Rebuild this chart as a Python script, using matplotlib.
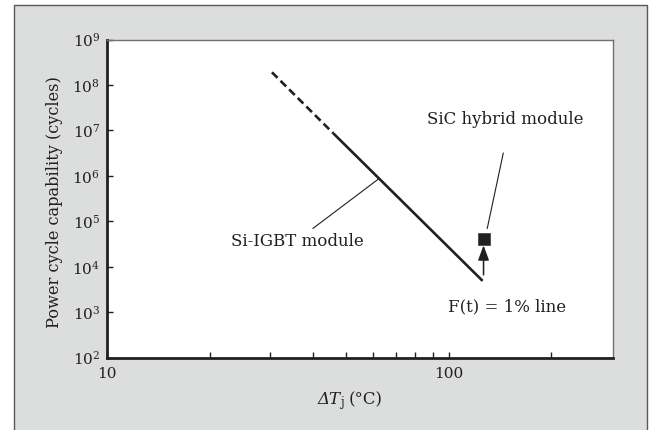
import matplotlib
matplotlib.use("Agg")
import matplotlib.pyplot as plt
from matplotlib.patches import Rectangle
from matplotlib.ticker import FixedLocator, NullLocator, LogLocator, NullFormatter, FixedFormatter

plt.rcParams['font.family'] = ['DejaVu Serif']
plt.rcParams['mathtext.fontset'] = 'dejavuserif'

# courbe Si-IGBT (partie extrapolée en pointillés puis partie mesurée)
dT_dashed = [30.4, 46.0]
Nf_dashed = [1.9e8, 8.6e6]
dT_solid = [46.0, 125.8]
Nf_solid = [8.6e6, 4.9e3]

# point module hybride SiC
dT_sic = [126.6]
Nf_sic = [4.07e4]

# flèche entre la fin de la ligne et le point SiC
arrow_tail = (126.6, 6.65e3)
arrow_tip = (126.6, 2.97e4)

# lignes de rappel des étiquettes
leader_igbt_x = [40.1, 62.3]
leader_igbt_y = [7.0e4, 8.5e5]
leader_sic_x = [144.6, 129.8]
leader_sic_y = [3.16e6, 7.0e4]

xticks_major = [10, 100]
xticks_labels = ["10", "100"]
xticks_minor = [20, 30, 40, 50, 60, 70, 80, 90, 200]

ink = '#231f20'
W, H = 651, 430

fig = plt.figure(figsize=(W/100, H/100), dpi=100)
fig.patch.set_facecolor('white')
fig.patches.append(Rectangle((14/W, -0.05), (647-14)/W, 1 - 5/H + 0.05,
                             transform=fig.transFigure, facecolor='#dcdddd',
                             edgecolor='#595757', lw=1.0, zorder=-10))

ax = fig.add_axes([107/W, 1 - 357.7/H, (613-107)/W, (357.7-39.5)/H])
ax.set_facecolor('white')
ax.set_xscale('log')
ax.set_yscale('log')
ax.set_xlim(10, 303)
ax.set_ylim(1e2, 1e9)

ax.plot(dT_dashed, Nf_dashed, color=ink, lw=1.9, linestyle=(0, (3.0, 1.6)), solid_capstyle='butt')
ax.plot(dT_solid, Nf_solid, color=ink, lw=1.9, solid_capstyle='butt')
ax.plot(dT_sic, Nf_sic, 's', color=ink, ms=8.2, mew=0.4)

ax.annotate('', xy=arrow_tip, xytext=arrow_tail,
            arrowprops=dict(arrowstyle='-|>,head_length=0.6,head_width=0.22',
                            color=ink, lw=1.1, mutation_scale=15, shrinkA=0, shrinkB=0))

ax.plot(leader_igbt_x, leader_igbt_y, color=ink, lw=0.8)
ax.plot(leader_sic_x, leader_sic_y, color=ink, lw=0.8)

ax.text(36.0, 3.64e4, "Si-IGBT module", ha='center', va='center', fontsize=12, color=ink)
ax.text(146.6, 1.77e7, "SiC hybrid module", ha='center', va='center', fontsize=12, color=ink)
ax.text(148.6, 1.28e3, "F(t) = 1% line", ha='center', va='center', fontsize=12, color=ink)

# axes
ax.xaxis.set_major_locator(FixedLocator(xticks_major))
ax.xaxis.set_major_formatter(FixedFormatter(xticks_labels))
ax.xaxis.set_minor_locator(FixedLocator(xticks_minor))
ax.xaxis.set_minor_formatter(NullFormatter())
ax.yaxis.set_major_locator(LogLocator(base=10, numticks=20))
ax.yaxis.set_minor_locator(NullLocator())

ax.tick_params(axis='both', which='both', direction='in', length=4.5, width=1.0,
               colors=ink, labelsize=11)
ax.tick_params(axis='x', which='both', pad=7)
ax.tick_params(axis='y', which='both', pad=5)

for side in ['left', 'bottom']:
    ax.spines[side].set_linewidth(2.0)
    ax.spines[side].set_color(ink)
for side in ['top', 'right']:
    ax.spines[side].set_linewidth(1.0)
    ax.spines[side].set_color('#727171')

ax.set_ylabel("Power cycle capability (cycles)", fontsize=11.7, color=ink)
ax.yaxis.set_label_coords(-0.087, 0.49)

# titre de l'axe x : Delta T en italique, indice j, puis unité
fig.canvas.draw()
r = fig.canvas.get_renderer()
base_y = 1 - 404.5/H
t1 = fig.text(318/W, base_y, "ΔT", style='italic', fontsize=12, va='baseline', color=ink)
bb1 = t1.get_window_extent(r)
t2 = fig.text((bb1.x1 - 1)/W, base_y - 1.5/H, "j", fontsize=8.5, va='baseline', color=ink)
bb2 = t2.get_window_extent(r)
fig.text((bb2.x1 + 5)/W, base_y, "(°C)", fontsize=12, va='baseline', color=ink)

fig.savefig("out.png", dpi=100)
